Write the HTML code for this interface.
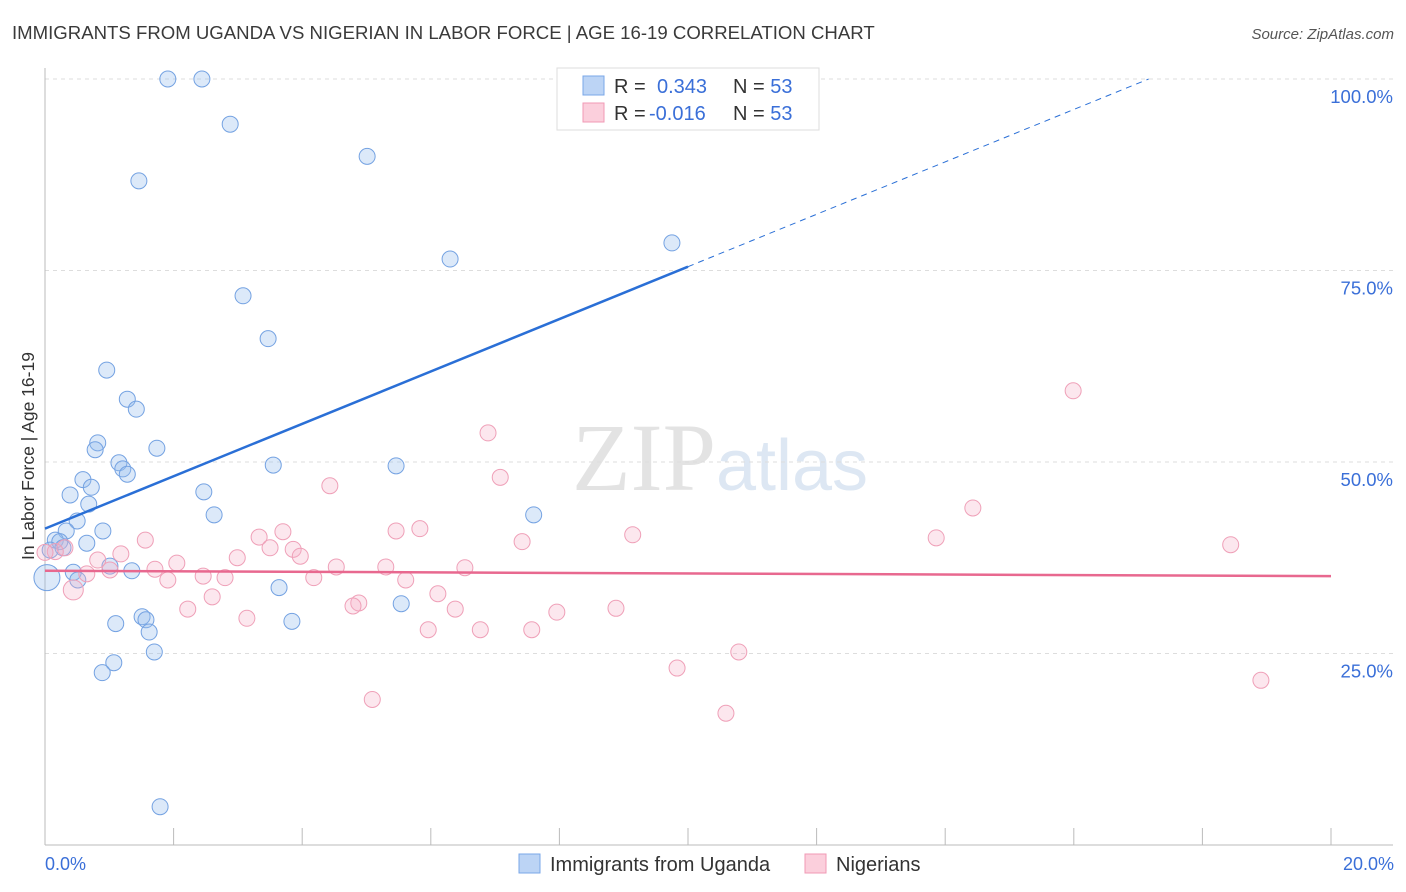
<!DOCTYPE html>
<html><head><meta charset="utf-8"><style>
body{margin:0;background:#fff;font-family:"Liberation Sans",sans-serif;}
svg{display:block}
</style></head><body>
<svg id="chart" width="1406" height="892">
<text x="12" y="39" font-size="18.6" fill="#3a3a3a">IMMIGRANTS FROM UGANDA VS NIGERIAN IN LABOR FORCE | AGE 16-19 CORRELATION CHART</text>
<text x="1394" y="39" font-size="15" fill="#555" text-anchor="end" font-style="italic">Source: ZipAtlas.com</text>
<text x="720" y="490" font-size="96" fill="#e6e6e6" text-anchor="middle" font-family="Liberation Serif,serif"><tspan fill="#e3e3e3">ZIP</tspan><tspan fill="#dde7f3" font-family="Liberation Sans,sans-serif" font-size="72">atlas</tspan></text>
<g id="grid"></g>
<line x1="45" y1="68" x2="45" y2="845" stroke="#bbb"/>
<line x1="45" y1="845" x2="1393" y2="845" stroke="#bbb"/>
<g id="xticks"></g>
<text x="45" y="870" font-size="18" fill="#3a6fd8">0.0%</text>
<text x="1394" y="870" font-size="18" fill="#3a6fd8" text-anchor="end">20.0%</text>
<text transform="translate(34,456) rotate(-90)" font-size="17.5" fill="#333" text-anchor="middle">In Labor Force | Age 16-19</text>
<g id="pts"></g>
<g id="trend"></g>
<g>
<rect x="557" y="68" width="262" height="62" fill="#fff" stroke="#ddd"/>
<rect x="583" y="76" width="21" height="19" fill="#bcd4f5" stroke="#7aa7e8"/>
<rect x="583" y="103" width="21" height="19" fill="#fbcfdc" stroke="#f09ab5"/>
<text x="614" y="93" font-size="20" fill="#333">R = <tspan fill="#3a6fd8" x="657">0.343</tspan><tspan x="733" fill="#333">N = </tspan><tspan fill="#3a6fd8">53</tspan></text>
<text x="614" y="120" font-size="20" fill="#333">R = <tspan fill="#3a6fd8" x="649">-0.016</tspan><tspan x="733" fill="#333">N = </tspan><tspan fill="#3a6fd8">53</tspan></text>
</g>
<g>
<rect x="519" y="854" width="21" height="19" fill="#bcd4f5" stroke="#7aa7e8"/>
<text x="550" y="871" font-size="20" fill="#333">Immigrants from Uganda</text>
<rect x="805" y="854" width="21" height="19" fill="#fbcfdc" stroke="#f09ab5"/>
<text x="836" y="871" font-size="20" fill="#333">Nigerians</text>
</g>
</svg>
<script>
const yTicks=[25,50,75,100];
const yTickLabels=["25.0%","50.0%","75.0%","100.0%"];
const xTicks=[0,2,4,6,8,10,12,14,16,18,20];
const ugX=[1.91,2.44,2.88,5.01,1.46,9.75,6.30,3.08,3.47,0.96,1.28,1.42,0.82,1.74,0.78,1.15,1.21,1.28,3.55,5.46,0.59,0.72,0.39,2.47,0.68,0.50,2.63,0.33,0.90,7.60,0.16,0.23,0.65,0.28,0.08,1.01,0.44,1.35,0.51,3.64,5.54,1.51,1.57,1.10,3.84,1.62,1.70,1.07,0.89,1.79,0.03];
const ugY=[100,100,94.1,89.9,86.7,78.6,76.5,71.7,66.1,62.0,58.2,56.9,52.5,51.8,51.6,49.9,49.1,48.4,49.6,49.5,47.7,46.7,45.7,46.1,44.5,42.3,43.1,41.0,41.0,43.1,39.8,39.6,39.4,38.8,38.5,36.4,35.6,35.8,34.6,33.6,31.5,29.8,29.4,28.9,29.2,27.8,25.2,23.8,22.5,5.0,34.9];
const ngX=[15.99,6.89,7.08,4.43,14.43,5.83,5.46,3.70,3.33,9.14,7.42,13.86,18.44,1.56,3.50,3.86,3.97,1.18,2.99,0.31,0.16,0.82,2.05,1.71,4.53,5.30,6.53,1.01,0.65,2.46,2.80,4.18,5.61,1.91,6.11,2.60,4.88,4.79,6.38,2.22,7.96,8.88,3.14,5.96,6.77,7.57,10.79,9.83,18.91,5.09,10.59,0.44,0];
const ngY=[59.3,53.8,48.0,46.9,44.0,41.3,41.0,40.9,40.2,40.5,39.6,40.1,39.2,39.8,38.8,38.6,37.7,38.0,37.5,38.8,38.3,37.2,36.8,36.0,36.3,36.3,36.2,35.9,35.4,35.1,34.9,34.9,34.6,34.6,32.8,32.4,31.6,31.2,30.8,30.8,30.4,30.9,29.6,28.1,28.1,28.1,25.2,23.1,21.5,19.0,17.2,33.3,38.2];
const ugTrend=[41.3,3.42];
const ngTrend=[35.8,-0.035];
const NS="http://www.w3.org/2000/svg";
const sx=v=>45+v*64.3, sy=v=>845-v*7.66;
function mk(t,a,p){const e=document.createElementNS(NS,t);for(const k in a)e.setAttribute(k,a[k]);p.appendChild(e);return e;}
const grid=document.getElementById('grid');
yTicks.forEach((t,i)=>{
 const l=mk('line',{x1:45,x2:1393,y1:sy(t),y2:sy(t),stroke:'#ddd','stroke-dasharray':'4,4'},grid);
 
 
 const tx=mk('text',{x:1393,y:sy(t)+24,'font-size':18.5,fill:'#3a6fd8','text-anchor':'end'},grid);
 tx.textContent=yTickLabels[i];
 
 
});
const xt=document.getElementById('xticks');
xTicks.forEach(t=>{
 const l=mk('line',{x1:sx(t),x2:sx(t),y1:828,y2:845,stroke:'#bbb'},xt);
 
 
});
const pts=document.getElementById('pts');
ugX.forEach((x,i)=>{
 const c=mk('circle',{cx:sx(x),cy:sy(ugY[i]),r:i==ugX.length-1?13:8,fill:'rgba(150,188,238,0.33)',stroke:'#74a2e2','stroke-width':1},pts);
 
 
});
ngX.forEach((x,i)=>{
 const c=mk('circle',{cx:sx(x),cy:sy(ngY[i]),r:i==ngX.length-2?10:8,fill:'rgba(246,175,198,0.3)',stroke:'#efa0b8','stroke-width':1},pts);
 
 
});
const tr=document.getElementById('trend');
const ux1=10, ux2=(100-ugTrend[0])/ugTrend[1];
const l1=mk('line',{x1:sx(0),y1:sy(ugTrend[0]),x2:sx(ux1),y2:sy(ugTrend[0]+ugTrend[1]*ux1),stroke:'#2a6fd6','stroke-width':2.5},tr);


const l2=mk('line',{x1:sx(ux1),y1:sy(ugTrend[0]+ugTrend[1]*ux1),x2:sx(ux2),y2:sy(100),stroke:'#2a6fd6','stroke-width':1,'stroke-dasharray':'6,5'},tr);


const l3=mk('line',{x1:sx(0),y1:sy(ngTrend[0]),x2:sx(20),y2:sy(ngTrend[0]+ngTrend[1]*20),stroke:'#e8688f','stroke-width':2.5},tr);


</script>
</body></html>
